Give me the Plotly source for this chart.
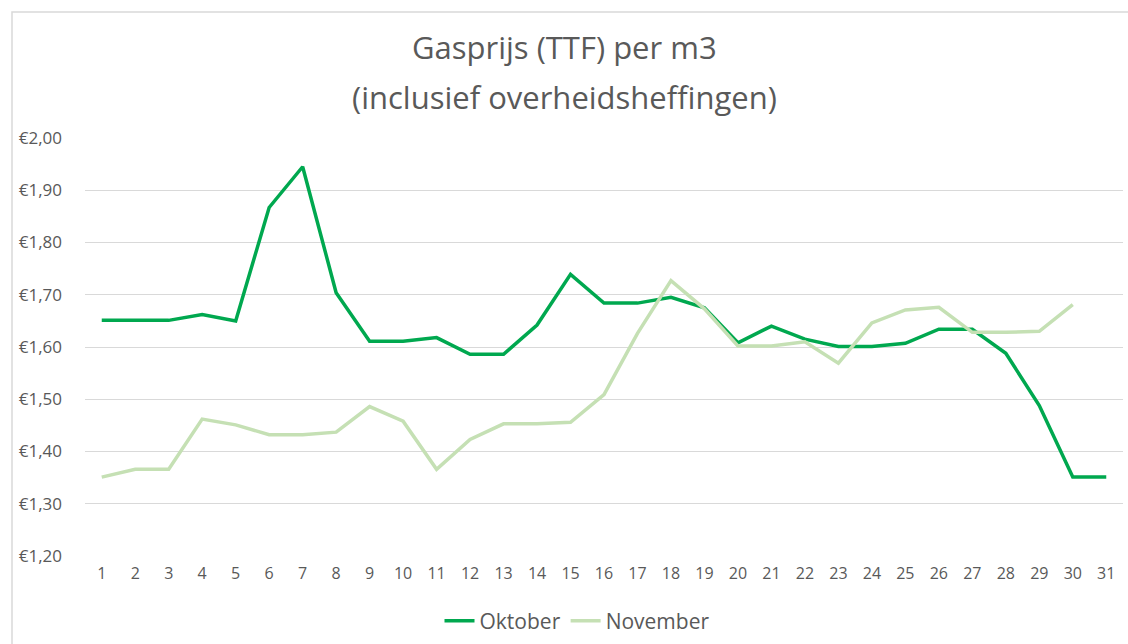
import plotly.graph_objects as go

days = list(range(1, 32))
oktober = [1.651, 1.651, 1.651, 1.662, 1.650, 1.867, 1.945, 1.704, 1.611, 1.611,
           1.618, 1.586, 1.586, 1.642, 1.739, 1.684, 1.684, 1.695, 1.675, 1.608,
           1.640, 1.615, 1.601, 1.601, 1.607, 1.634, 1.634, 1.588, 1.488, 1.351, 1.351]
november = [1.351, 1.366, 1.366, 1.462, 1.451, 1.432, 1.432, 1.437, 1.486, 1.458,
            1.366, 1.423, 1.453, 1.453, 1.456, 1.509, 1.626, 1.727, 1.673, 1.602,
            1.602, 1.610, 1.569, 1.646, 1.671, 1.676, 1.628, 1.628, 1.630, 1.681]
y_tickvals = [1.2, 1.3, 1.4, 1.5, 1.6, 1.7, 1.8, 1.9, 2.0]
y_ticktext = ["€1,20", "€1,30", "€1,40", "€1,50", "€1,60", "€1,70", "€1,80", "€1,90", "€2,00"]
title_lines = ["Gasprijs (TTF) per m3", "(inclusief overheidsheffingen)"]

FONT = "Open Sans"
GREY = "#595959"
W, H = 1128, 644
L, R, T, B = 85, 5, 138, 88
PW, PH = W - L - R, H - T - B

fig = go.Figure()
fig.add_trace(go.Scatter(x=days, y=oktober, mode="lines", name="Oktober",
                         line=dict(color="#00A84F", width=3.5)))
fig.add_trace(go.Scatter(x=days[:len(november)], y=november, mode="lines", name="November",
                         line=dict(color="#C5E0B4", width=3.5)))

def py(pix):  # pixel y from top -> paper y
    return (H - B - pix) / PH

def px(pix):  # pixel x from left -> paper x
    return (pix - L) / PW

fig.update_layout(
    width=W, height=H,
    paper_bgcolor="white", plot_bgcolor="white",
    margin=dict(l=L, r=R, t=T, b=B, autoexpand=False),
    font=dict(family=FONT, color=GREY),
    showlegend=True,
    legend=dict(orientation="h", x=px(577), xanchor="center", y=py(621), yanchor="middle",
                font=dict(family=FONT, size=21, color=GREY), itemwidth=30),
    xaxis=dict(range=[0.5, 31.5], tickmode="array", tickvals=days,
               ticktext=[str(d) for d in days], showgrid=False, zeroline=False,
               showline=False, ticks="", automargin=False, ticklabelstandoff=6,
               tickfont=dict(size=16, color=GREY)),
    yaxis=dict(range=[1.2, 2.0], tickmode="array", tickvals=y_tickvals,
               ticktext=y_ticktext, showgrid=True, gridcolor="#D9D9D9", gridwidth=1,
               zeroline=False, showline=False, ticks="", ticklabelstandoff=22,
               automargin=False, tickfont=dict(size=17, color=GREY)),
)
for txt, yc in zip(title_lines, [47, 97]):
    fig.add_annotation(text=txt, xref="paper", yref="paper", x=px(W / 2), y=py(yc),
                       xanchor="center", yanchor="middle", showarrow=False,
                       font=dict(family=FONT, size=31, color=GREY))
fig.add_shape(type="rect", xref="paper", yref="paper",
              x0=px(12), x1=px(W + 5), y0=py(H + 5), y1=py(12),
              line=dict(color="#D9D9D9", width=1.5), fillcolor="rgba(0,0,0,0)")

fig.write_html("out.html", config={"displayModeBar": False},
               post_script="document.body.style.margin='0';document.body.style.padding='0';")
